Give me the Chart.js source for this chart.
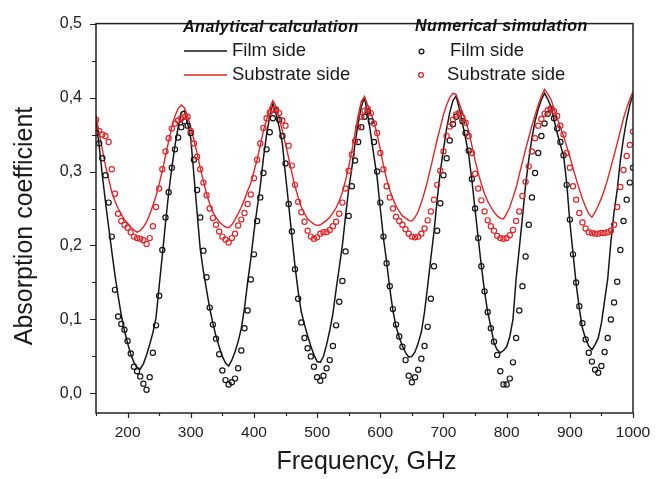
<!DOCTYPE html>
<html lang="en">
<head>
<meta charset="UTF-8">
<title>Absorption coefficient</title>
<script src="https://cdn.jsdelivr.net/npm/chart.js@4.4.1/dist/chart.umd.min.js"></script>
<style>
  body { margin: 0; background: #fff; }
  canvas { display: block; }
</style>
<script>
// frequency grid, GHz
var freq = [
  150,155,160,165,170,175,180,185,190,195,
  200,205,210,215,220,225,230,235,240,245,
  250,255,260,265,270,275,280,285,290,295,
  300,305,310,315,320,325,330,335,340,345,
  350,355,360,365,370,375,380,385,390,395,
  400,405,410,415,420,425,430,435,440,445,
  450,455,460,465,470,475,480,485,490,495,
  500,505,510,515,520,525,530,535,540,545,
  550,555,560,565,570,575,580,585,590,595,
  600,605,610,615,620,625,630,635,640,645,
  650,655,660,665,670,675,680,685,690,695,
  700,705,710,715,720,725,730,735,740,745,
  750,755,760,765,770,775,780,785,790,795,
  800,805,810,815,820,825,830,835,840,845,
  850,855,860,865,870,875,880,885,890,895,
  900,905,910,915,920,925,930,935,940,945,
  950,955,960,965,970,975,980,985,990,995,
  1000
];

// analytical calculation, film side
var anFilm = [
  0.370,0.335,0.295,0.259,0.225,0.192,0.160,0.132,0.106,0.085,
  0.068,0.053,0.042,0.035,0.033,0.040,0.052,0.066,0.082,0.102,
  0.145,0.187,0.230,0.271,0.305,0.335,0.360,0.380,0.382,0.365,
  0.345,0.295,0.245,0.195,0.165,0.140,0.115,0.095,0.077,0.063,
  0.050,0.041,0.037,0.045,0.056,0.070,0.088,0.115,0.150,0.182,
  0.218,0.250,0.280,0.318,0.350,0.375,0.392,0.378,0.360,0.338,
  0.295,0.255,0.213,0.172,0.138,0.110,0.093,0.078,0.064,0.052,
  0.043,0.042,0.050,0.066,0.085,0.108,0.140,0.170,0.200,0.240,
  0.276,0.305,0.338,0.365,0.388,0.400,0.378,0.350,0.320,0.292,
  0.250,0.210,0.178,0.142,0.112,0.090,0.076,0.064,0.055,0.049,
  0.050,0.056,0.068,0.083,0.110,0.145,0.183,0.218,0.262,0.300,
  0.330,0.358,0.380,0.396,0.402,0.385,0.365,0.345,0.322,0.288,
  0.249,0.210,0.172,0.138,0.110,0.090,0.068,0.059,0.055,0.058,
  0.063,0.077,0.100,0.155,0.196,0.238,0.282,0.316,0.345,0.368,
  0.385,0.397,0.406,0.398,0.388,0.370,0.352,0.336,0.322,0.285,
  0.232,0.190,0.148,0.115,0.088,0.074,0.064,0.059,0.066,0.075,
  0.095,0.125,0.155,0.205,0.245,0.275,0.315,0.345,0.370,0.390,
  0.405
];

// analytical calculation, substrate side
var anSub = [
  0.376,0.352,0.330,0.308,0.290,0.272,0.260,0.250,0.242,0.235,
  0.230,0.225,0.221,0.218,0.220,0.225,0.232,0.242,0.254,0.267,
  0.283,0.301,0.321,0.341,0.360,0.375,0.385,0.390,0.386,0.375,
  0.360,0.343,0.325,0.305,0.287,0.270,0.256,0.245,0.238,0.232,
  0.228,0.225,0.224,0.228,0.235,0.243,0.252,0.262,0.274,0.284,
  0.300,0.316,0.335,0.355,0.370,0.386,0.396,0.388,0.372,0.355,
  0.337,0.318,0.298,0.280,0.265,0.252,0.243,0.236,0.232,0.229,
  0.227,0.228,0.231,0.234,0.238,0.244,0.251,0.260,0.272,0.288,
  0.306,0.328,0.352,0.376,0.395,0.401,0.390,0.378,0.368,0.350,
  0.330,0.308,0.290,0.275,0.263,0.253,0.246,0.240,0.237,0.234,
  0.233,0.238,0.246,0.258,0.272,0.288,0.306,0.325,0.343,0.360,
  0.377,0.390,0.400,0.406,0.404,0.392,0.380,0.368,0.355,0.335,
  0.315,0.298,0.283,0.270,0.260,0.252,0.245,0.240,0.237,0.236,
  0.243,0.252,0.265,0.278,0.296,0.313,0.330,0.346,0.362,0.376,
  0.390,0.402,0.411,0.405,0.398,0.385,0.372,0.360,0.348,0.334,
  0.320,0.305,0.290,0.276,0.263,0.252,0.243,0.238,0.245,0.254,
  0.264,0.276,0.290,0.306,0.322,0.338,0.355,0.372,0.386,0.398,
  0.408
];

// numerical simulation, film side
var numFilm = [
  0.352,0.338,0.318,0.295,0.258,0.212,0.140,0.104,0.094,0.086,
  0.071,0.054,0.036,0.030,0.023,0.013,0.005,0.022,0.055,0.092,
  0.132,0.194,0.238,0.272,0.305,0.330,0.346,0.360,0.368,0.362,
  0.352,0.316,0.275,0.238,0.193,0.157,0.116,0.093,0.074,0.053,
  0.031,0.018,0.012,0.015,0.020,0.034,0.058,0.088,0.112,0.154,
  0.188,0.233,0.265,0.298,0.330,0.353,0.372,0.383,0.370,0.348,
  0.311,0.256,0.219,0.168,0.128,0.096,0.075,0.061,0.050,0.036,
  0.022,0.017,0.024,0.034,0.045,0.064,0.092,0.124,0.152,0.192,
  0.240,0.280,0.315,0.340,0.360,0.374,0.381,0.368,0.340,0.300,
  0.258,0.212,0.176,0.145,0.114,0.093,0.077,0.063,0.045,0.024,
  0.015,0.022,0.032,0.047,0.064,0.090,0.128,0.172,0.220,0.257,
  0.295,0.318,0.342,0.364,0.374,0.379,0.368,0.352,0.328,0.290,
  0.250,0.210,0.172,0.138,0.110,0.088,0.070,0.052,0.030,0.012,
  0.012,0.020,0.042,0.075,0.112,0.145,0.185,0.228,0.265,0.298,
  0.325,0.348,0.365,0.378,0.385,0.372,0.358,0.340,0.322,0.282,
  0.235,0.188,0.150,0.118,0.095,0.073,0.055,0.043,0.032,0.028,
  0.037,0.056,0.075,0.100,0.123,0.151,0.194,0.233,0.262,0.285,
  0.305
];

// numerical simulation, substrate side
var numSub = [
  0.370,0.355,0.350,0.348,0.340,0.303,0.270,0.243,0.233,0.228,
  0.224,0.218,0.212,0.210,0.209,0.207,0.202,0.210,0.226,0.252,
  0.277,0.303,0.327,0.345,0.358,0.365,0.369,0.372,0.374,0.374,
  0.355,0.338,0.320,0.303,0.285,0.268,0.250,0.237,0.228,0.219,
  0.212,0.208,0.204,0.210,0.216,0.227,0.235,0.244,0.256,0.269,
  0.291,0.316,0.338,0.359,0.372,0.380,0.384,0.384,0.379,0.369,
  0.362,0.335,0.308,0.282,0.259,0.245,0.232,0.220,0.212,0.209,
  0.211,0.216,0.218,0.218,0.221,0.226,0.232,0.243,0.258,0.277,
  0.301,0.323,0.341,0.360,0.374,0.382,0.385,0.379,0.365,0.352,
  0.325,0.303,0.280,0.265,0.250,0.239,0.233,0.228,0.222,0.216,
  0.212,0.211,0.212,0.216,0.223,0.234,0.246,0.262,0.282,0.301,
  0.327,0.348,0.361,0.370,0.377,0.379,0.373,0.366,0.348,0.325,
  0.297,0.277,0.261,0.246,0.234,0.226,0.220,0.213,0.210,0.209,
  0.210,0.214,0.221,0.233,0.246,0.267,0.286,0.307,0.327,0.345,
  0.362,0.371,0.378,0.383,0.385,0.382,0.375,0.362,0.350,0.325,
  0.305,0.280,0.262,0.244,0.231,0.223,0.218,0.217,0.216,0.216,
  0.217,0.217,0.218,0.220,0.228,0.252,0.279,0.302,0.321,0.336,
  0.354
];

// axis ticks (major ones get a label)
var xTicks = [150,200,250,300,350,400,450,500,550,600,650,700,750,800,850,900,950,1000];
var yTicks = [0,0.05,0.1,0.15,0.2,0.25,0.3,0.35,0.4,0.45,0.5];

var BLACK = '#161616';
var RED = '#e0262a';
var FONT = "'Liberation Sans', Arial, sans-serif";

function pts(arr) {
  return freq.map(function(f, i) { return {x: f, y: arr[i]}; });
}

function isMajorY(v) { return Math.round(v * 100) % 10 === 0; }

// box, tick marks, axis titles and the two-column legend
var framePlugin = {
  id: 'frame',
  afterDraw: function(chart) {
    var ctx = chart.ctx, a = chart.chartArea;
    var sx = chart.scales.x, sy = chart.scales.y;
    ctx.save();
    ctx.strokeStyle = '#222';
    ctx.lineWidth = 1.5;
    ctx.strokeRect(a.left, a.top, a.right - a.left, a.bottom - a.top);

    ctx.lineWidth = 1.2;
    ctx.beginPath();
    sx.ticks.forEach(function(t) {
      var px = Math.round(sx.getPixelForValue(t.value)) + 0.5;
      var len = (t.value % 100 === 0) ? 5 : 3;
      ctx.moveTo(px, a.bottom); ctx.lineTo(px, a.bottom + len);
    });
    sy.ticks.forEach(function(t) {
      var py = Math.round(sy.getPixelForValue(t.value)) + 0.5;
      var len = isMajorY(t.value) ? 6 : 4;
      ctx.moveTo(a.left, py); ctx.lineTo(a.left - len, py);
    });
    ctx.stroke();

    // axis titles
    ctx.fillStyle = '#1a1a1a';
    ctx.textAlign = 'center';
    ctx.textBaseline = 'middle';
    ctx.font = '25px ' + FONT;
    ctx.fillText('Frequency, GHz', (a.left + a.right) / 2 + 2, 462);
    ctx.save();
    ctx.translate(25, 226);
    ctx.rotate(-Math.PI / 2);
    ctx.fillText('Absorption coefficient', 0, 0);
    ctx.restore();

    // legend
    ctx.textAlign = 'left';
    ctx.fillStyle = '#111';
    ctx.font = 'italic bold 16px ' + FONT;
    ctx.letterSpacing = '0.55px';
    ctx.fillText('Analytical calculation', 183, 28);
    ctx.fillText('Numerical simulation', 415, 27);
    ctx.letterSpacing = '0px';

    ctx.font = '18.5px ' + FONT;
    ctx.lineWidth = 1.5;
    ctx.strokeStyle = BLACK;
    ctx.beginPath(); ctx.moveTo(184, 51); ctx.lineTo(227, 51); ctx.stroke();
    ctx.strokeStyle = RED;
    ctx.beginPath(); ctx.moveTo(184, 75); ctx.lineTo(227, 75); ctx.stroke();
    ctx.fillStyle = '#1a1a1a';
    ctx.fillText('Film side', 232, 51);
    ctx.fillText('Substrate side', 232, 75);

    ctx.lineWidth = 1.3;
    ctx.strokeStyle = BLACK;
    ctx.beginPath(); ctx.arc(421.5, 51.5, 2.4, 0, Math.PI * 2); ctx.stroke();
    ctx.strokeStyle = RED;
    ctx.beginPath(); ctx.arc(421, 75, 2.4, 0, Math.PI * 2); ctx.stroke();
    ctx.fillText('Film side', 450, 51);
    ctx.fillText('Substrate side', 447, 75);
    ctx.restore();
  }
};
</script>
</head>
<body>
<canvas id="absChart" width="662" height="479"></canvas>
<script>
var config = {
  type: 'line',
  data: {
    datasets: [
      {
        label: 'Numerical simulation, substrate side',
        data: pts(numSub),
        showLine: false,
        pointStyle: 'circle',
        pointRadius: 2.6,
        pointBorderWidth: 1.2,
        pointBorderColor: RED,
        pointBackgroundColor: 'rgba(0,0,0,0)',
        order: 1
      },
      {
        label: 'Numerical simulation, film side',
        data: pts(numFilm),
        showLine: false,
        pointStyle: 'circle',
        pointRadius: 2.6,
        pointBorderWidth: 1.2,
        pointBorderColor: BLACK,
        pointBackgroundColor: 'rgba(0,0,0,0)',
        order: 2
      },
      {
        label: 'Analytical calculation, substrate side',
        data: pts(anSub),
        borderColor: RED,
        borderWidth: 1.4,
        pointRadius: 0,
        tension: 0,
        fill: false,
        order: 3
      },
      {
        label: 'Analytical calculation, film side',
        data: pts(anFilm),
        borderColor: BLACK,
        borderWidth: 1.5,
        pointRadius: 0,
        tension: 0,
        fill: false,
        order: 4
      }
    ]
  },
  options: {
    responsive: false,
    animation: false,
    devicePixelRatio: 1,
    layout: { padding: { top: 15, right: 29, left: 0, bottom: 0 } },
    plugins: {
      legend: { display: false },
      tooltip: { enabled: false }
    },
    scales: {
      x: {
        type: 'linear',
        min: 150,
        max: 1000,
        afterBuildTicks: function(s) { s.ticks = xTicks.map(function(v) { return {value: v}; }); },
        afterFit: function(s) { s.height = 66; },
        grid: { display: false, drawTicks: false },
        border: { display: false },
        ticks: {
          autoSkip: false,
          maxRotation: 0,
          padding: 10,
          color: '#222',
          font: { family: FONT, size: 15.5 },
          callback: function(v) { return v % 100 === 0 ? String(v) : ''; }
        }
      },
      y: {
        type: 'linear',
        min: -0.0265,
        max: 0.5,
        afterBuildTicks: function(s) { s.ticks = yTicks.map(function(v) { return {value: v}; }); },
        afterFit: function(s) { s.width = 96; },
        grid: { display: false, drawTicks: false },
        border: { display: false },
        ticks: {
          autoSkip: false,
          padding: 14,
          color: '#222',
          font: { family: FONT, size: 16 },
          callback: function(v) { return isMajorY(v) ? v.toFixed(1).replace('.', ',') : ''; }
        }
      }
    }
  },
  plugins: [framePlugin]
};

window.onload = function() {
  var ctx = document.getElementById('absChart').getContext('2d');
  window.myChart = new Chart(ctx, config);
};
</script>
</body>
</html>
